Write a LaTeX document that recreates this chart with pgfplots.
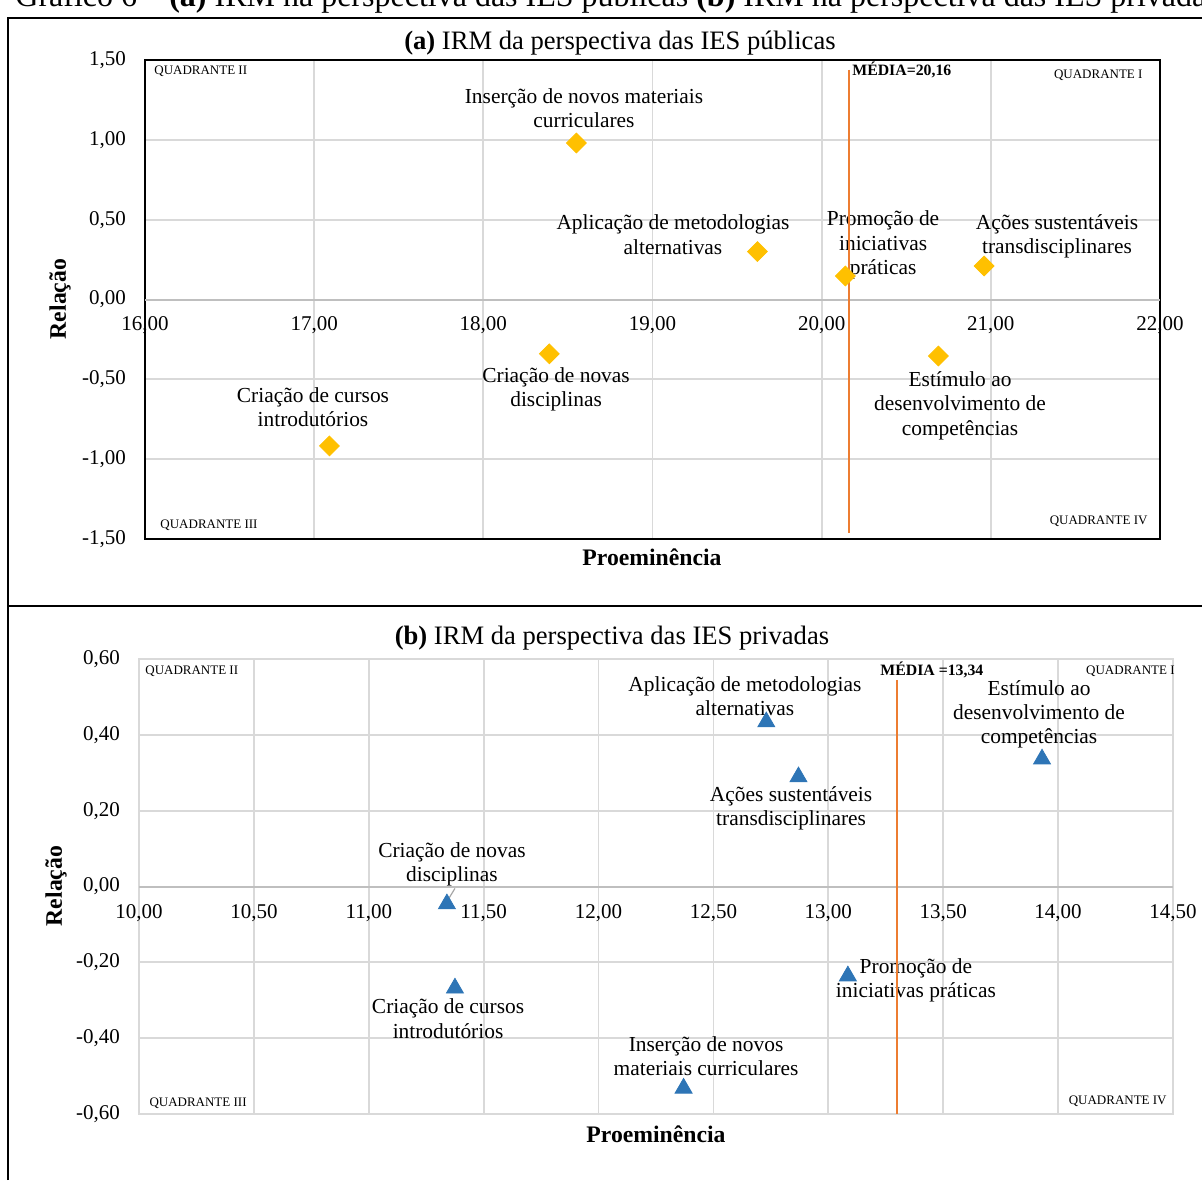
\documentclass[border=0pt]{standalone}
\usepackage{fontspec}
\setmainfont{Liberation Serif}
\usepackage{pgfplots}
\pgfplotsset{compat=1.18}
\definecolor{gridc}{RGB}{217,217,217}
\definecolor{zeroc}{RGB}{191,191,191}
\definecolor{gold}{RGB}{255,192,0}
\definecolor{xblue}{RGB}{46,117,182}
\definecolor{xorange}{RGB}{237,125,49}
\pgfplotsset{irm/.style={
  scale only axis, clip=false, anchor=south west,
  grid=major, major grid style={gridc, line width=0.9pt},
  major tick length=0pt,
  tick label style={font=\fontsize{10.5}{12}\selectfont},
  /pgf/number format/fixed, /pgf/number format/fixed zerofill,
  /pgf/number format/precision=2, /pgf/number format/use comma,
  /pgf/number format/assume math mode=true,
  yticklabel style={xshift=-6pt},
}}
\newcommand{\lab}{\fontsize{10.7}{12.2}\selectfont}
\newcommand{\qfont}{\fontsize{6.5}{8}\selectfont}
\newcommand{\mfont}{\fontsize{7.9}{9}\selectfont\bfseries}
\begin{document}
\begin{tikzpicture}[x=0.5pt,y=0.5pt]
\useasboundingbox (0,0) rectangle (1202,1180);
% caption (cut at top)
\node[anchor=base west, inner sep=0pt, font=\fontsize{16}{18}\selectfont] at (15,1173)
  {Gráfico 6 – \textbf{(a)} IRM na perspectiva das IES públicas \textbf{(b)} IRM na perspectiva das IES privadas};
\draw[line width=0.8pt] (8,0) -- (8,1162) -- (1202,1162);
\draw[line width=1.2pt] (8,574) -- (1202,574);
% titles and labels
\node[font=\fontsize{13.3}{15}\selectfont] at (620,1137) {\textbf{(a)} IRM da perspectiva das IES públicas};
\node[font=\fontsize{13.3}{15}\selectfont] at (612,542) {\textbf{(b)} IRM da perspectiva das IES privadas};
\node[font=\fontsize{11.85}{14}\selectfont\bfseries] at (652,623) {Proeminência};
\node[font=\fontsize{11.85}{14}\selectfont\bfseries] at (656,46) {Proeminência};
\node[font=\fontsize{11.85}{14}\selectfont\bfseries, rotate=90] at (60,881) {Relação};
\node[font=\fontsize{11.85}{14}\selectfont\bfseries, rotate=90] at (56,294) {Relação};

% ---------- (a) ----------
\begin{axis}[irm, at={(72.5pt,320.5pt)}, width=507.5pt, height=239.5pt,
  xmin=16, xmax=22, ymin=-1.5, ymax=1.5,
  xtick={16,17,...,22}, ytick={-1.5,-1,...,1.5},
  axis line style={black, line width=1pt},
  xticklabel style={anchor=center, yshift=107pt}]
\addplot[zeroc, line width=1pt, forget plot] coordinates {(16,0) (22,0)};
\addplot[only marks, mark=square*, mark size=3.5pt, mark options={rotate=45, fill=gold, draw=gold}]
  coordinates {(18.55,0.98) (19.62,0.30) (20.14,0.147) (20.96,0.21) (20.69,-0.354) (18.39,-0.34) (17.09,-0.917)};
\node[align=center, font=\lab] at (axis cs:18.595,1.199) {Inserção de novos materiais\\curriculares};
\node[align=center, font=\lab] at (axis cs:19.121,0.407) {Aplicação de metodologias\\alternativas};
\node[align=center, font=\lab] at (axis cs:20.363,0.341) {Promoção de\\iniciativas\\práticas};
\node[align=center, font=\lab] at (axis cs:21.391,0.395) {Ações sustentáveis\\transdisciplinares};
\node[align=center, font=\lab] at (axis cs:20.818,-0.664) {Estímulo ao\\desenvolvimento de\\competências};
\node[align=center, font=\lab] at (axis cs:18.430,-0.564) {Criação de novas\\disciplinas};
\node[align=center, font=\lab] at (axis cs:16.993,-0.673) {Criação de cursos\\introdutórios};
\addplot[xorange, line width=0.8pt] coordinates {(20.16,1.44) (20.16,-1.46)};
\node[anchor=west, inner sep=0pt, font=\qfont] at (axis cs:16.053,1.431) {QUADRANTE II};
\node[anchor=east, inner sep=0pt, font=\qfont] at (axis cs:21.899,1.406) {QUADRANTE I};
\node[anchor=west, inner sep=0pt, font=\qfont] at (axis cs:16.089,-1.412) {QUADRANTE III};
\node[anchor=east, inner sep=0pt, font=\qfont] at (axis cs:21.929,-1.387) {QUADRANTE IV};
\node[anchor=west, inner sep=0pt, font=\mfont] at (axis cs:20.179,1.437) {MÉDIA=20,16};
\end{axis}

% ---------- (b) ----------
\begin{axis}[irm, at={(69.5pt,33pt)}, width=517pt, height=227.5pt,
  xmin=10, xmax=14.5, ymin=-0.6, ymax=0.6,
  xtick={10,10.5,...,14.5}, ytick={-0.6,-0.4,...,0.61},
  axis line style={gridc, line width=0.9pt},
  xticklabel style={anchor=center, yshift=100.5pt}]
\addplot[zeroc, line width=1pt, forget plot] coordinates {(10,0) (14.5,0)};
\addplot[only marks, mark=triangle*, mark size=4.9pt, mark options={fill=xblue, draw=xblue}]
  coordinates {(12.73,0.434) (12.87,0.289) (13.93,0.336) (11.34,-0.046) (11.375,-0.268) (12.37,-0.532) (13.085,-0.236)};
\draw[gray!70, line width=0.6pt] (axis cs:11.375,-0.005) -- (axis cs:11.345,-0.035);
\node[align=center, font=\lab] at (axis cs:12.637,0.502) {Aplicação de metodologias\\alternativas};
\node[align=center, font=\lab] at (axis cs:13.917,0.454) {Estímulo ao\\desenvolvimento de\\competências};
\node[align=center, font=\lab] at (axis cs:12.838,0.206) {Ações sustentáveis\\transdisciplinares};
\node[align=center, font=\lab] at (axis cs:11.362,0.058) {Criação de novas\\disciplinas};
\node[align=center, font=\lab] at (axis cs:11.345,-0.349) {Criação de cursos\\introdutórios};
\node[align=center, font=\lab] at (axis cs:12.468,-0.447) {Inserção de novos\\materiais curriculares};
\node[align=center, font=\lab] at (axis cs:13.381,-0.248) {Promoção de\\iniciativas práticas};
\addplot[xorange, line width=0.8pt] coordinates {(13.30,0.545) (13.30,-0.6)};
\node[anchor=west, inner sep=0pt, font=\qfont] at (axis cs:10.026,0.568) {QUADRANTE II};
\node[anchor=east, inner sep=0pt, font=\qfont] at (axis cs:14.509,0.568) {QUADRANTE I};
\node[anchor=west, inner sep=0pt, font=\qfont] at (axis cs:10.044,-0.571) {QUADRANTE III};
\node[anchor=east, inner sep=0pt, font=\qfont] at (axis cs:14.474,-0.566) {QUADRANTE IV};
\node[anchor=west, inner sep=0pt, font=\mfont] at (axis cs:13.225,0.571) {MÉDIA =13,34};
\end{axis}
\end{tikzpicture}
\end{document}
